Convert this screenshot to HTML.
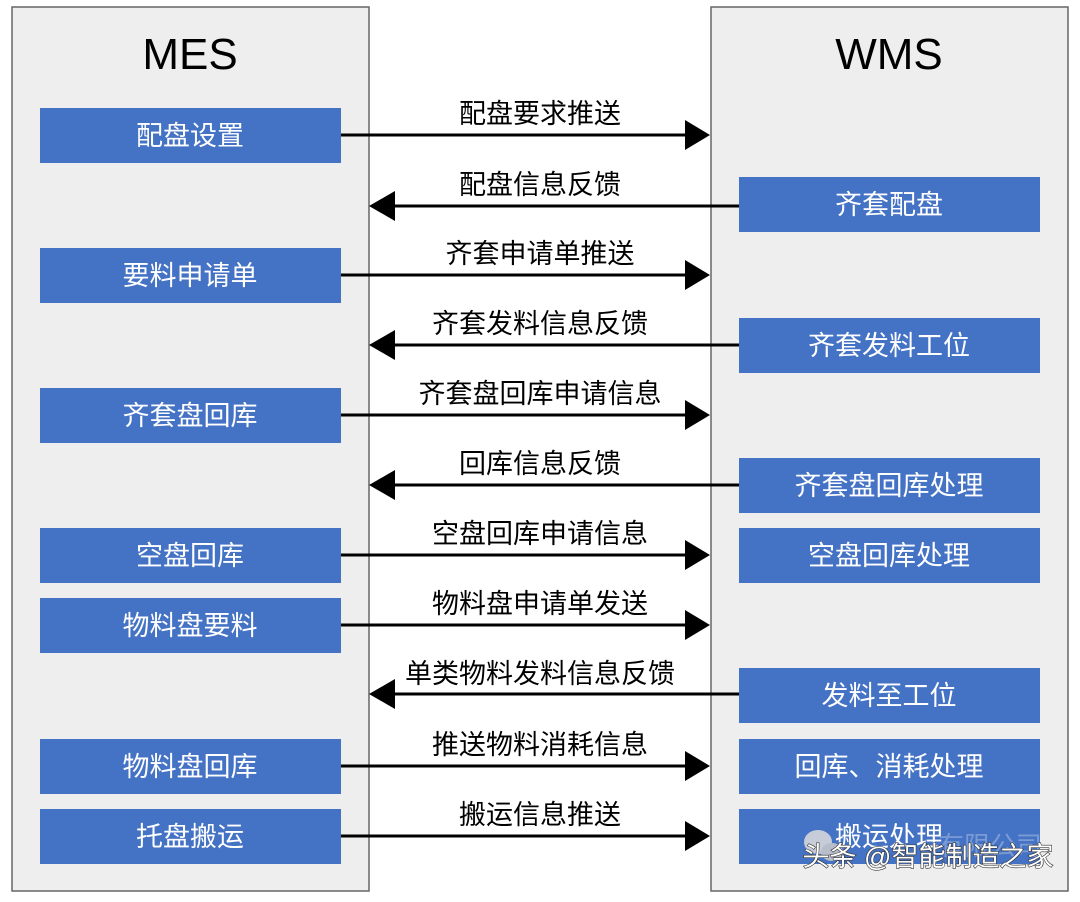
<!DOCTYPE html>
<html><head><meta charset="utf-8"><style>
html,body{margin:0;padding:0;background:#fff;}
svg text{font-family:"Liberation Sans","Noto Sans CJK SC",sans-serif;}
</style></head><body>
<svg width="1080" height="897" xmlns="http://www.w3.org/2000/svg">
<rect x="0" y="0" width="1080" height="897" fill="#fff"/>
<rect x="12" y="7" width="357" height="884" fill="#eeeeee" stroke="#666" stroke-width="1.5"/>
<rect x="711" y="7" width="357" height="884" fill="#eeeeee" stroke="#666" stroke-width="1.5"/>
<text x="190" y="69" font-size="44" text-anchor="middle" fill="#000">MES</text>
<text x="889" y="69" font-size="44" text-anchor="middle" fill="#000">WMS</text>
<g fill="#4472c4">
<rect x="40" y="108" width="301" height="55"/>
<rect x="40" y="248" width="301" height="55"/>
<rect x="40" y="388" width="301" height="55"/>
<rect x="40" y="528" width="301" height="55"/>
<rect x="40" y="598" width="301" height="55"/>
<rect x="40" y="739" width="301" height="55"/>
<rect x="40" y="809" width="301" height="55"/>
<rect x="739" y="177" width="301" height="55"/>
<rect x="739" y="318" width="301" height="55"/>
<rect x="739" y="458" width="301" height="55"/>
<rect x="739" y="528" width="301" height="55"/>
<rect x="739" y="668" width="301" height="55"/>
<rect x="739" y="739" width="301" height="55"/>
<rect x="739" y="809" width="301" height="55"/>
</g>
<g fill="#fff" font-size="27" text-anchor="middle">
<text x="190" y="145">配盘设置</text>
<text x="190" y="285">要料申请单</text>
<text x="190" y="425">齐套盘回库</text>
<text x="190" y="565">空盘回库</text>
<text x="190" y="635">物料盘要料</text>
<text x="190" y="776">物料盘回库</text>
<text x="190" y="846">托盘搬运</text>
<text x="889" y="214">齐套配盘</text>
<text x="889" y="355">齐套发料工位</text>
<text x="889" y="495">齐套盘回库处理</text>
<text x="889" y="565">空盘回库处理</text>
<text x="889" y="705">发料至工位</text>
<text x="889" y="776">回库、消耗处理</text>
<text x="889" y="846">搬运处理</text>
</g>
<g stroke="#000" stroke-width="3">
<line x1="341" y1="135" x2="690" y2="135"/>
<line x1="341" y1="275" x2="690" y2="275"/>
<line x1="341" y1="415" x2="690" y2="415"/>
<line x1="341" y1="555" x2="690" y2="555"/>
<line x1="341" y1="625" x2="690" y2="625"/>
<line x1="341" y1="766" x2="690" y2="766"/>
<line x1="341" y1="836" x2="690" y2="836"/>
<line x1="390" y1="206" x2="739" y2="206"/>
<line x1="390" y1="345" x2="739" y2="345"/>
<line x1="390" y1="485" x2="739" y2="485"/>
<line x1="390" y1="694" x2="739" y2="694"/>
</g>
<g fill="#000">
<polygon points="710,135 685,120 685,150"/>
<polygon points="710,275 685,260 685,290"/>
<polygon points="710,415 685,400 685,430"/>
<polygon points="710,555 685,540 685,570"/>
<polygon points="710,625 685,610 685,640"/>
<polygon points="710,766 685,751 685,781"/>
<polygon points="710,836 685,821 685,851"/>
<polygon points="369,206 395,191 395,221"/>
<polygon points="369,345 395,330 395,360"/>
<polygon points="369,485 395,470 395,500"/>
<polygon points="369,694 395,679 395,709"/>
</g>
<g fill="#000" font-size="27" text-anchor="middle">
<text x="540" y="123">配盘要求推送</text>
<text x="540" y="194">配盘信息反馈</text>
<text x="540" y="263">齐套申请单推送</text>
<text x="540" y="333">齐套发料信息反馈</text>
<text x="540" y="403">齐套盘回库申请信息</text>
<text x="540" y="473">回库信息反馈</text>
<text x="540" y="543">空盘回库申请信息</text>
<text x="540" y="613">物料盘申请单发送</text>
<text x="540" y="683">单类物料发料信息反馈</text>
<text x="540" y="754">推送物料消耗信息</text>
<text x="540" y="824">搬运信息推送</text>
</g>
<text x="990" y="855" font-size="26" text-anchor="middle" fill="#8aa6d8" opacity="0.8">有限公司</text>
<g opacity="0.85">
<ellipse cx="818" cy="842" rx="14" ry="12" fill="#ddd"/>
<ellipse cx="832" cy="852" rx="11" ry="9" fill="#ccc"/>
</g>
<text x="928" y="866" font-size="27" text-anchor="middle" fill="#fff" stroke="#333" stroke-width="1.2" paint-order="stroke">头条 @智能制造之家</text>
</svg>
</body></html>
